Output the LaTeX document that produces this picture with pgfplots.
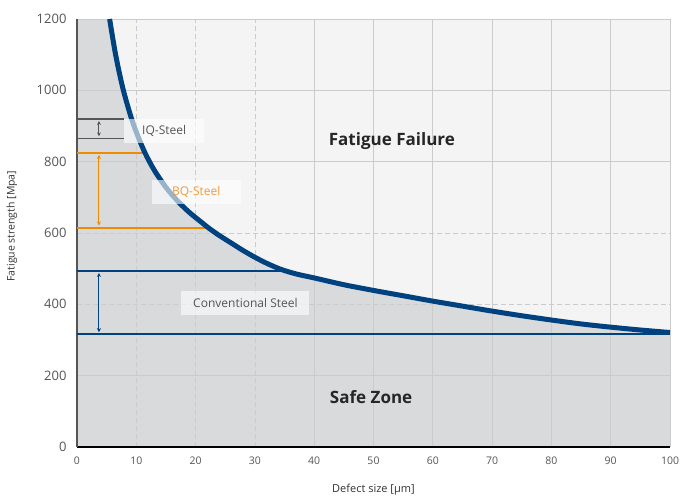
\documentclass[border=0pt]{standalone}
\usepackage{pgfplots}
\pgfplotsset{compat=1.18}
\usetikzlibrary{arrows.meta}
\usepackage{fontspec}
\setmainfont{Open Sans}
\definecolor{navy}{HTML}{00427F}
\definecolor{orng}{HTML}{F08A00}
\definecolor{lorng}{HTML}{F39A3C}
\definecolor{safe}{HTML}{D9DADC}
\definecolor{fail}{HTML}{F4F4F4}
\definecolor{gridc}{HTML}{CBCBCB}
\definecolor{txt}{HTML}{555555}
\definecolor{txtd}{HTML}{333333}
\definecolor{iq}{HTML}{555555}

\pgfplotstableread{
x y
5.5 1200
6.5 1101
7.7 1008
9.0 931
10.0 883
11.4 827
13 777
15 728
17 689
19 657
21 630
22.2 614
24 593
26 572
28 551
30 532
32 515
34.4 498
37 485
40 474
45 455
50 439
55 424
60 409
65 395
70 381
75 368
80 356
85 345
90 336
95 328
100 321
}\curve

\begin{document}
\begin{tikzpicture}[
  box/.style={fill=white, fill opacity=0.6, text opacity=1, inner sep=0pt,
    font=\fontsize{12}{14}\selectfont, minimum height=24pt},
  dbl/.style={<->, >={Stealth[length=4pt,width=4pt]}, line width=1pt},
]
\begin{axis}[
  name=ax,
  scale only axis,
  width=593pt, height=428pt,
  xmin=0, xmax=100, ymin=0, ymax=1200,
  set layers,
  axis background/.style={fill=fail},
  axis x line*=bottom,
  axis y line*=left,
  x axis line style={-, black, line width=1.3pt},
  y axis line style={-, txt, line width=1.3pt},
  xtick={0,40,50,...,100},
  extra x ticks={10,20,30},
  extra x tick style={grid=major,
    major grid style={gridc, line width=0.8pt, dash pattern=on 5pt off 3pt}},
  ytick={0,200,800,1000,1200},
  extra y ticks={400,600},
  extra y tick style={grid=major,
    major grid style={gridc, line width=0.8pt, dash pattern=on 5pt off 3pt}},
  grid=major,
  major grid style={gridc, line width=0.8pt},
  major tick length=0pt,
  /pgf/number format/assume math mode=true,
  /pgf/number format/set thousands separator={},
  tick label style={text=txt},
  yticklabel style={xshift=-7pt, font=\fontsize{13}{15}\selectfont},
  xticklabel style={yshift=-6pt, font=\fontsize{10.5}{13}\selectfont},
  xlabel={Defect size [µm]},
  ylabel={Fatigue strength [Mpa]},
  every axis x label/.style={at={(axis description cs:0.5,0)}, yshift=-43pt,
    anchor=center, font=\fontsize{11}{13}\selectfont, text=txtd},
  every axis y label/.style={at={(axis description cs:0,0.516)}, xshift=-65pt,
    anchor=center, rotate=90, font=\fontsize{10.5}{12}\selectfont, text=txtd},
]
  % safe zone (below the curve)
  \addplot[on layer=axis background, fill=safe, draw=none, smooth]
    table {\curve} \closedcycle;
  \addplot[on layer=axis background, fill=safe, draw=none] coordinates {
    (0,1200) (5.6,1200)
  } \closedcycle;

  % steel ranges
  \addplot[iq, line width=1.8pt] coordinates {(0,920) (8,920)};
  \addplot[iq, line width=1.8pt] coordinates {(0,865) (8,865)};
  \addplot[orng, line width=1.9pt] coordinates {(0,825) (11.4,825)};
  \addplot[orng, line width=1.9pt] coordinates {(0,615) (22.2,615)};
  \addplot[navy, line width=1.8pt] coordinates {(0,494) (35.5,494)};
  \addplot[navy, line width=1.8pt] coordinates {(0,316) (100,316)};
  \draw[dbl, iq] (axis cs:3.7,914) -- (axis cs:3.7,871);
  \draw[dbl, orng] (axis cs:3.7,819) -- (axis cs:3.7,621);
  \draw[dbl, navy] (axis cs:3.7,488) -- (axis cs:3.7,322);

  % limit curve
  \addplot[navy, line width=5pt, smooth] table {\curve};

  \node[box, text=txt, minimum width=80pt] at (axis cs:14.7,887) {IQ-Steel};
  \node[box, text=lorng, minimum width=89pt] at (axis cs:20.1,715) {BQ-Steel};
  \node[box, text=txt, minimum width=128pt] at (axis cs:28.4,404) {Conventional Steel};

  \node[font=\bfseries\fontsize{17}{20}\selectfont, text=black!85]
    at (axis cs:53.1,858) {Fatigue Failure};
  \node[font=\bfseries\fontsize{17}{20}\selectfont, text=black!85]
    at (axis cs:49.6,139) {Safe Zone};
\end{axis}
\pgfresetboundingbox
\path ([xshift=-77pt,yshift=-50pt]ax.south west)
  rectangle ([xshift=10pt,yshift=19pt]ax.north east);
\end{tikzpicture}
\end{document}
